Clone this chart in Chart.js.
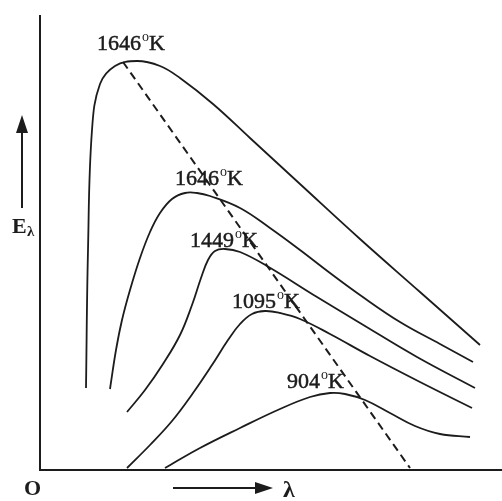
<!DOCTYPE html>
<html>
<head>
<meta charset="utf-8">
<script src="https://cdn.jsdelivr.net/npm/chart.js@4"></script>
<style>
  html, body { margin: 0; padding: 0; background: #fff; }
  #wrap { width: 502px; height: 501px; }
</style>
</head>
<body>
<div id="wrap"><canvas id="planck"></canvas></div>
<script>
// Black body curves (arbitrary units, x = wavelength, y = E)
const temps = ["1646", "1646", "1449", "1095", "904"];

const c1x = [4.6, 4.8, 5.2, 6, 7.5, 9.7, 12, 14, 17.3, 21, 26, 32, 38, 44];
const c1y = [8.2, 22, 34, 38.6, 40.4, 40.9, 40.4, 39.2, 36.6, 33.2, 28.6, 23.1, 17.8, 12.5];

const c2x = [7, 7.6, 8.2, 9, 10, 11, 12, 13.2, 14.5, 15.7, 17, 20, 23, 26, 29, 32, 36, 40, 43.3];
const c2y = [8.1, 12, 15, 18, 21.2, 23.8, 25.7, 27.1, 27.7, 27.7, 27.4, 26.2, 24.2, 22, 19.7, 17.5, 14.8, 12.6, 10.8];

const c3x = [8.7, 10.5, 12.3, 14, 15.2, 16.1, 16.8, 17.5, 18.5, 20, 22.7, 27.7, 32, 37.7, 43.5];
const c3y = [5.8, 8, 10.6, 13.5, 16.5, 19.2, 21, 21.9, 22.1, 21.8, 20.4, 17.3, 14.7, 11.3, 8.2];

const c4x = [8.7, 11, 13.2, 15.3, 17.2, 18.8, 20, 21.2, 22.5, 24, 26, 29, 33, 38, 43.2];
const c4y = [0.2, 2.5, 4.9, 7.7, 10.5, 13, 14.6, 15.6, 15.9, 15.7, 15.1, 13.6, 11.4, 8.8, 6.2];

const c5x = [12.5, 16, 20, 24, 27, 29, 30.5, 32.5, 35, 37.5, 40, 43];
const c5y = [0.2, 2.2, 4.2, 6.1, 7.3, 7.7, 7.6, 7, 5.7, 4.4, 3.6, 3.3];

// Wien displacement line (through the maxima)
const wienX = [8.3, 37];
const wienY = [40.8, 0.2];

// where each temperature label sits (left end of text baseline)
const LABEL_POS = [[5.7, 42], [13.5, 28.5], [15, 22.3], [19.2, 16.2], [24.7, 8.2]];

const INK = "#1c1c1c";

function pts(xs, ys) {
  return xs.map((x, i) => ({ x: x, y: ys[i] }));
}

function curve(xs, ys) {
  return {
    data: pts(xs, ys),
    borderColor: INK,
    borderWidth: 1.8,
    pointRadius: 0,
    fill: false,
    tension: 0.4,
    clip: false,
  };
}

// axes, arrows and text labels drawn on top of the chart area
const figureDecor = {
  id: "figureDecor",
  afterDatasetsDraw(chart) {
    const ctx = chart.ctx;
    const xs = chart.scales.x;
    const ys = chart.scales.y;
    const area = chart.chartArea;
    ctx.save();
    ctx.strokeStyle = INK;
    ctx.fillStyle = INK;

    // axes
    ctx.lineWidth = 2;
    ctx.beginPath();
    ctx.moveTo(area.left, area.top);
    ctx.lineTo(area.left, area.bottom);
    ctx.lineTo(area.right, area.bottom);
    ctx.stroke();

    // E arrow
    ctx.lineWidth = 2;
    ctx.beginPath();
    ctx.moveTo(22, 208);
    ctx.lineTo(22, 130);
    ctx.stroke();
    ctx.beginPath();
    ctx.moveTo(22, 115);
    ctx.lineTo(16, 133);
    ctx.lineTo(28, 133);
    ctx.closePath();
    ctx.fill();

    // lambda arrow
    ctx.beginPath();
    ctx.moveTo(173, 488);
    ctx.lineTo(258, 488);
    ctx.stroke();
    ctx.beginPath();
    ctx.moveTo(273, 488);
    ctx.lineTo(255, 482);
    ctx.lineTo(255, 494);
    ctx.closePath();
    ctx.fill();

    ctx.textBaseline = "alphabetic";
    ctx.textAlign = "left";
    ctx.font = "bold 22px 'Liberation Serif', serif";
    ctx.fillText("O", 24, 495);
    ctx.fillText("E", 12, 233);
    ctx.font = "bold 24px 'Liberation Serif', serif";
    ctx.fillText("\u03bb", 283, 497);
    ctx.font = "bold 15px 'Liberation Serif', serif";
    ctx.fillText("\u03bb", 27, 236);

    // temperature labels
    ctx.lineWidth = 0.5;
    temps.forEach((t, i) => {
      let px = xs.getPixelForValue(LABEL_POS[i][0]);
      const py = ys.getPixelForValue(LABEL_POS[i][1]);
      ctx.font = "22px 'Liberation Serif', serif";
      ctx.fillText(t, px, py);
      ctx.strokeText(t, px, py);
      px += ctx.measureText(t).width + 1;
      ctx.font = "14px 'Liberation Serif', serif";
      ctx.fillText("o", px, py - 9);
      px += ctx.measureText("o").width;
      ctx.font = "22px 'Liberation Serif', serif";
      ctx.fillText("K", px, py);
      ctx.strokeText("K", px, py);
    });
    ctx.restore();
  },
};

new Chart(document.getElementById("planck"), {
  type: "line",
  data: {
    datasets: [
      curve(c1x, c1y),
      curve(c2x, c2y),
      curve(c3x, c3y),
      curve(c4x, c4y),
      curve(c5x, c5y),
      {
        data: pts(wienX, wienY),
        borderColor: INK,
        borderWidth: 2,
        borderDash: [8, 5],
        pointRadius: 0,
        fill: false,
        tension: 0,
        clip: false,
      },
    ],
  },
  options: {
    responsive: true,
    maintainAspectRatio: false,
    animation: false,
    layout: { padding: { left: 40, top: 15, right: 0, bottom: 31 } },
    plugins: {
      legend: { display: false },
      tooltip: { enabled: false },
    },
    scales: {
      x: { type: "linear", min: 0, max: 46.2, display: false },
      y: { type: "linear", min: 0, max: 45.5, display: false },
    },
  },
  plugins: [figureDecor],
});
</script>
</body>
</html>
